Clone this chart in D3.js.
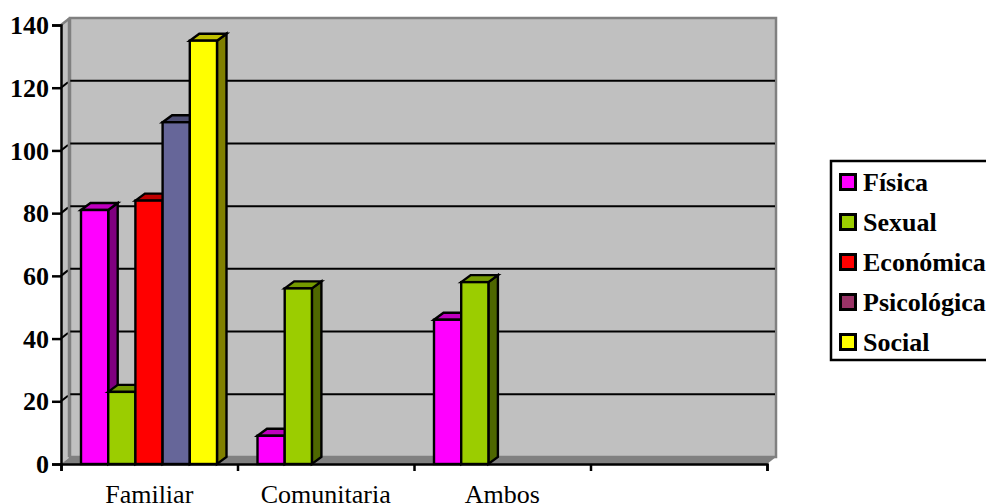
<!DOCTYPE html>
<html>
<head>
<meta charset="utf-8">
<style>
  html, body { margin: 0; padding: 0; background: #fff; }
  svg { display: block; }
  text { font-family: "Liberation Serif", serif; fill: #000; }
</style>
<script src="https://cdn.jsdelivr.net/npm/d3@7"></script>
</head>
<body>
<svg id="chart" width="986" height="504"></svg>
<script>
// Reported cases by kind of violence and setting.
const categories = ["Familiar", "Comunitaria", "Ambos", ""];
const seriesNames = ["Física", "Sexual", "Económica", "Psicológica", "Social"];
const fisica = [81, 9, 46, null];
const sexual = [23, 56, 58, null];
const economica = [84, null, null, null];
const psicologica = [109, null, null, null];
const social = [135, null, null, null];
const yTicks = [0, 20, 40, 60, 80, 100, 120, 140];

// Face colours of each bar, and the colour its legend key uses.
const faceColors = ["#ff00ff", "#9bcd00", "#ff0000", "#666699", "#ffff00"];
const topColors = ["#c000c0", "#749a00", "#c00000", "#4d4d73", "#c0c000"];
const sideColors = ["#800080", "#4e6700", "#800000", "#333349", "#808000"];
const legendColors = ["#ff00ff", "#9bcd00", "#ff0000", "#993366", "#ffff00"];

const allSeries = [fisica, sexual, economica, psicologica, social];

const svg = d3.select("#chart");

// Plot frame: front edge of the floor plus the offset of the back wall.
const x0 = 61, x1 = 767, yBase = 464, yTop = 25;
const depthX = 9, depthY = 7;
const barDepthX = 9.5, barDepthY = 7;

const y = d3.scaleLinear().domain([0, 140]).range([yBase, yTop]);
const xBand = d3.scaleBand().domain(d3.range(categories.length)).range([x0, x1]);
const xInner = d3.scaleBand().domain(d3.range(allSeries.length))
  .range([20, 20 + 27.2 * allSeries.length]);

const poly = pts => pts.map(p => p.join(",")).join(" ");

// Left wall, back wall and floor.
svg.append("polygon")
  .attr("points", poly([[x0, yTop], [x0 + depthX, yTop - depthY], [x0 + depthX, yBase - depthY], [x0, yBase]]))
  .attr("fill", "#c0c0c0");
svg.append("rect")
  .attr("x", x0 + depthX).attr("y", yTop - depthY)
  .attr("width", x1 - x0).attr("height", yBase - yTop)
  .attr("fill", "#c0c0c0").attr("stroke", "#808080").attr("stroke-width", 2.5);
svg.append("polygon")
  .attr("points", poly([[x0, yBase], [x0 + depthX, yBase - depthY], [x1 + depthX, yBase - depthY], [x1, yBase]]))
  .attr("fill", "#808080");
svg.append("line")
  .attr("x1", x0).attr("y1", yTop).attr("x2", x0 + depthX).attr("y2", yTop - depthY)
  .attr("stroke", "#808080").attr("stroke-width", 2.5);

// Gridlines on the back wall with their run down the left wall.
const grid = svg.append("g");
yTicks.filter(t => t > 0 && t < 140).forEach(t => {
  grid.append("line")
    .attr("x1", x0 + depthX).attr("x2", x1 + depthX - 1)
    .attr("y1", y(t) - depthY).attr("y2", y(t) - depthY)
    .attr("stroke", "#000").attr("stroke-width", 2);
  grid.append("line")
    .attr("x1", x0).attr("x2", x0 + depthX - 2)
    .attr("y1", y(t)).attr("y2", y(t) - depthY + 1.5)
    .attr("stroke", "#000").attr("stroke-width", 2);
});
svg.append("line")
  .attr("x1", x0 + depthX - 1).attr("x2", x0 + depthX - 1)
  .attr("y1", yTop - depthY).attr("y2", yBase - depthY)
  .attr("stroke", "#808080").attr("stroke-width", 2.5);

// Bars: side and top faces first, then the front.
const bars = [];
allSeries.forEach((values, s) => values.forEach((v, c) => {
  if (v !== null) bars.push({ s, c, v });
}));
const barG = svg.append("g").attr("stroke", "#000").attr("stroke-width", 2.4).attr("stroke-linejoin", "miter");
bars.sort((a, b) => a.c - b.c || a.s - b.s).forEach(d => {
  const left = xBand(d.c) + xInner(d.s);
  const right = left + xInner.bandwidth();
  const top = y(d.v);
  barG.append("polygon")
    .attr("points", poly([[right, top], [right + barDepthX, top - barDepthY], [right + barDepthX, yBase - barDepthY], [right, yBase]]))
    .attr("fill", sideColors[d.s]);
  barG.append("polygon")
    .attr("points", poly([[left, top], [left + barDepthX, top - barDepthY], [right + barDepthX, top - barDepthY], [right, top]]))
    .attr("fill", topColors[d.s]);
  barG.append("rect")
    .attr("x", left).attr("y", top)
    .attr("width", right - left).attr("height", yBase - top)
    .attr("fill", faceColors[d.s]);
});

// Value axis.
const yAxis = svg.append("g").attr("transform", `translate(${x0},0)`)
  .call(d3.axisLeft(y).tickValues(yTicks).tickSize(9).tickPadding(3));
yAxis.select(".domain").attr("stroke", "#000").attr("stroke-width", 2.5);
yAxis.selectAll(".tick line").attr("stroke", "#000").attr("stroke-width", 2.5);
yAxis.selectAll("text")
  .attr("dy", "0.33em")
  .style("font-family", '"Liberation Serif", serif')
  .style("font-size", "26px").style("font-weight", "bold");

// Category axis: ticks fall on band edges, labels centred in each band.
const xEdges = d3.range(categories.length + 1).map(i => x0 + i * xBand.bandwidth());
const xScaleEdges = d3.scaleLinear().domain([x0, x1]).range([x0, x1]);
const xAxis = svg.append("g").attr("transform", `translate(0,${yBase})`)
  .call(d3.axisBottom(xScaleEdges).tickValues(xEdges).tickSize(7).tickFormat(""));
xAxis.select(".domain").attr("stroke", "#000").attr("stroke-width", 2.5);
xAxis.selectAll(".tick line").attr("stroke", "#000").attr("stroke-width", 2.5);

svg.append("g").selectAll("text").data(categories.filter(d => d)).join("text")
  .attr("x", (d, i) => xBand(i) + xBand.bandwidth() / 2)
  .attr("y", 503)
  .attr("text-anchor", "middle")
  .style("font-size", "26px")
  .text(d => d);

// Legend, running off the right edge of the page.
const legend = svg.append("g");
legend.append("rect")
  .attr("x", 831).attr("y", 161).attr("width", 170).attr("height", 199)
  .attr("fill", "#fff").attr("stroke", "#000").attr("stroke-width", 2.5);
seriesNames.forEach((name, i) => {
  const cy = 182 + i * 40;
  legend.append("rect")
    .attr("x", 840.5).attr("y", cy - 7.5).attr("width", 15).attr("height", 15)
    .attr("fill", legendColors[i]).attr("stroke", "#000").attr("stroke-width", 3);
  legend.append("text")
    .attr("x", 863).attr("y", cy + 9)
    .style("font-size", "26px").style("font-weight", "bold")
    .text(name);
});
</script>
</body>
</html>
